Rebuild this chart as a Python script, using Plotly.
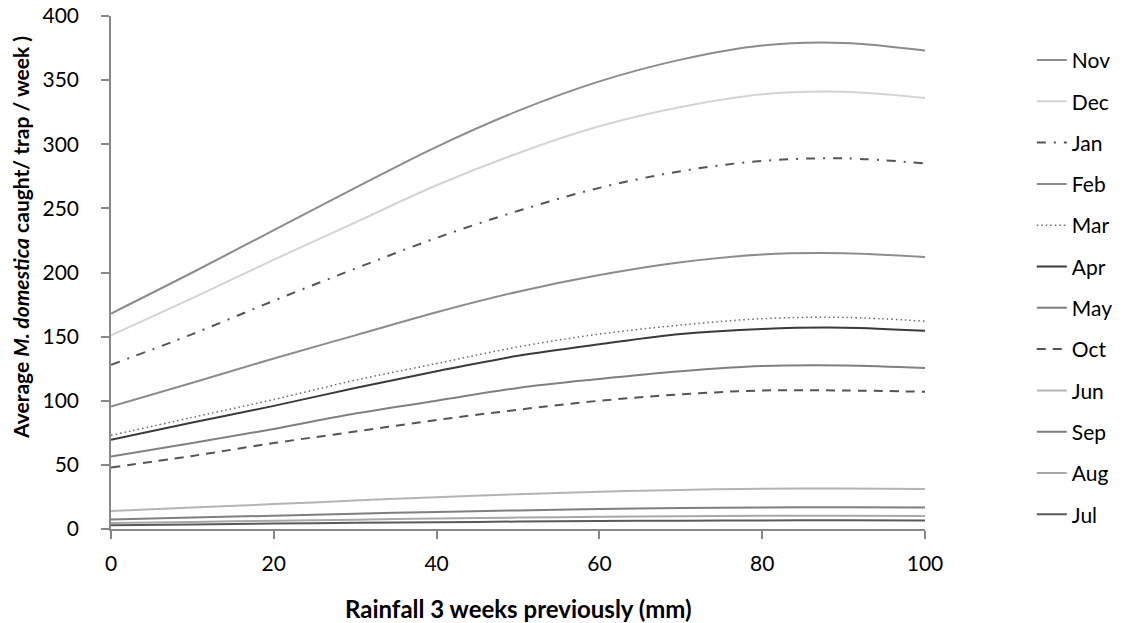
import plotly.graph_objects as go

# Rainfall (mm) three weeks before trapping
rainfall = [0, 10, 20, 30, 40, 50, 60, 70, 80, 90, 100]

# Predicted average catch per trap per week, by month
nov = [168, 200, 233, 266, 298, 326, 349, 366, 377, 379, 373]
dec = [151, 180, 210, 239, 268, 293, 314, 329, 339, 341, 336]
jan = [128, 152, 178, 203, 227, 248, 266, 279, 287, 289, 285]
feb = [95.5, 114, 133, 151, 169, 185, 198, 208, 214, 215, 212]
mar = [73, 87, 101, 116, 129, 142, 152, 159, 164, 165, 162]
apr = [69.5, 83, 96, 110, 123, 135, 144, 152, 156, 157, 154.5]
may = [56.5, 67, 78, 90, 100, 110, 117, 123, 127, 127.5, 125.5]
oct_ = [48, 57, 67, 76, 85, 93, 100, 105, 108, 108, 107]
jun = [14, 16.7, 19.4, 22.2, 24.8, 27.1, 29.1, 30.5, 31.4, 31.6, 31.1]
sep = [7.5, 8.9, 10.4, 11.9, 13.3, 14.5, 15.6, 16.4, 16.8, 16.9, 16.7]
aug = [4.6, 5.5, 6.4, 7.3, 8.2, 8.9, 9.6, 10.0, 10.3, 10.4, 10.2]
jul = [3, 3.6, 4.2, 4.8, 5.3, 5.8, 6.2, 6.5, 6.7, 6.8, 6.7]

months = ["Nov", "Dec", "Jan", "Feb", "Mar", "Apr", "May", "Oct", "Jun", "Sep", "Aug", "Jul"]
series = [nov, dec, jan, feb, mar, apr, may, oct_, jun, sep, aug, jul]

x_ticks = [0, 20, 40, 60, 80, 100]
y_ticks = [0, 50, 100, 150, 200, 250, 300, 350, 400]

styles = {
    "Nov": dict(color="#8c8c8c", dash="solid", width=2),
    "Dec": dict(color="#d4d4d4", dash="solid", width=2),
    "Jan": dict(color="#555555", dash="9px,8px,2px,8px", width=2),
    "Feb": dict(color="#8c8c8c", dash="solid", width=2),
    "Mar": dict(color="#6a6a6a", dash="1.5px,3px", width=1.5),
    "Apr": dict(color="#3a3a3a", dash="solid", width=2),
    "May": dict(color="#808080", dash="solid", width=2),
    "Oct": dict(color="#555555", dash="9px,7px", width=2),
    "Jun": dict(color="#b4b4b4", dash="solid", width=2),
    "Sep": dict(color="#7f7f7f", dash="solid", width=2),
    "Aug": dict(color="#a8a8a8", dash="solid", width=2),
    "Jul": dict(color="#5a5a5a", dash="solid", width=2),
}

FONT = "Lato, 'Open Sans', sans-serif"

fig = go.Figure()
for name, values in zip(months, series):
    fig.add_trace(go.Scatter(
        x=rainfall, y=values, mode="lines", name=name,
        line=dict(shape="spline", smoothing=1.0, **styles[name]),
        legendgroup=name,
    ))

tick_font = dict(family=FONT, size=21, color="#000000")

fig.update_layout(
    width=1124, height=623,
    margin=dict(l=111, r=199, t=16, b=94, autoexpand=False),
    paper_bgcolor="white", plot_bgcolor="white",
    font=tick_font,
    showlegend=True,
    legend=dict(
        xref="container", yref="container",
        x=0.918, y=0.936, xanchor="left", yanchor="top",
        font=dict(family=FONT, size=21, color="#000000"),
        tracegroupgap=11, itemwidth=30, traceorder="grouped",
        bgcolor="rgba(0,0,0,0)", maxheight=1,
    ),
    xaxis=dict(
        range=[0, 100], tickvals=x_ticks, automargin=False,
        showgrid=False, zeroline=False,
        showline=True, linecolor="#888888", linewidth=1.5,
        ticks="outside", ticklen=8, tickcolor="#888888", tickwidth=1.5,
        tickfont=tick_font, ticklabelstandoff=7,
    ),
    yaxis=dict(
        range=[0, 400], tickvals=y_ticks, automargin=False,
        showgrid=False, zeroline=False,
        showline=True, linecolor="#888888", linewidth=1.5,
        ticks="outside", ticklen=8, tickcolor="#888888", tickwidth=1.5,
        tickfont=tick_font, ticklabelstandoff=18,
    ),
    annotations=[
        dict(text="<b>Rainfall 3 weeks previously (mm)</b>",
             xref="paper", yref="paper", x=0.5, y=-0.154,
             xanchor="center", yanchor="middle", showarrow=False,
             font=dict(family=FONT, size=24, color="#000000")),
        dict(text="<b>Average <i>M. domestica</i> caught/ trap / week )</b>",
             xref="paper", yref="paper", x=-0.112, y=0.569,
             xanchor="center", yanchor="middle", textangle=-90, showarrow=False,
             font=dict(family=FONT, size=21, color="#000000")),
    ],
)

fig.write_html("out.html")
